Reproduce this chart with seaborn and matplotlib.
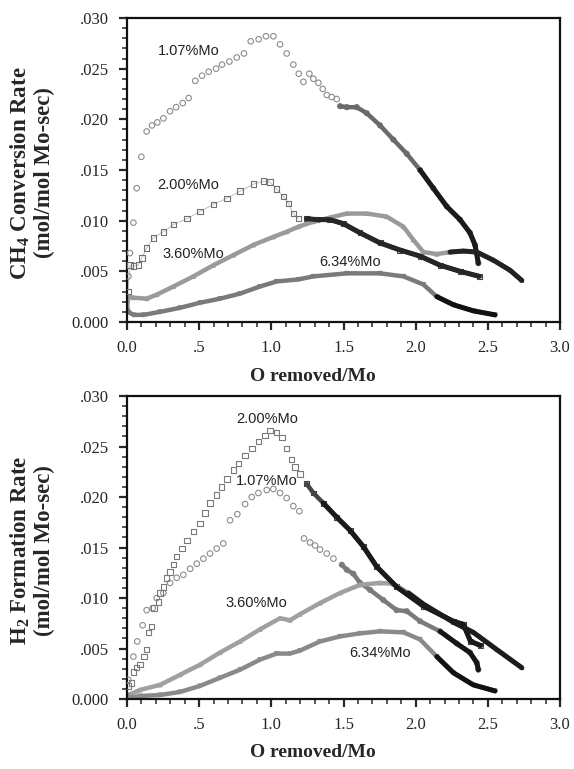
import numpy as np
import pandas as pd
import matplotlib
matplotlib.use("Agg")
import matplotlib.pyplot as plt
from matplotlib.ticker import MultipleLocator
import seaborn as sns

# ---------------- data ----------------
# Top panel: CH4 conversion rate
ch4_107_x = [0.01, 0.02, 0.044, 0.067, 0.099, 0.136, 0.173, 0.21, 0.252, 0.298, 0.34, 0.386, 0.427,
             0.473, 0.52, 0.566, 0.617, 0.658, 0.709, 0.76, 0.81, 0.857, 0.912, 0.963, 1.014, 1.06,
             1.106, 1.152, 1.19, 1.222, 1.263, 1.291, 1.326, 1.356, 1.384, 1.418, 1.453, 1.476,
             1.522, 1.591, 1.661, 1.753, 1.845, 1.938, 2.03, 2.122, 2.215, 2.307, 2.376, 2.411, 2.434]
ch4_107_y = [0.0045, 0.0068, 0.0098, 0.0132, 0.0163, 0.0188, 0.0194, 0.0197, 0.0201, 0.0208, 0.0212,
             0.0216, 0.0221, 0.0238, 0.0243, 0.0247, 0.0250, 0.0254, 0.0257, 0.0261, 0.0265, 0.0277,
             0.0279, 0.0282, 0.0282, 0.0274, 0.0265, 0.0254, 0.0245, 0.0237, 0.0245, 0.0240, 0.0236,
             0.0230, 0.0224, 0.0222, 0.0220, 0.0213, 0.0212, 0.0212, 0.0206, 0.0194, 0.0180, 0.0166,
             0.0150, 0.0132, 0.0114, 0.0101, 0.0088, 0.0076, 0.0058]

ch4_200_x = [0.005, 0.021, 0.044, 0.078, 0.102, 0.136, 0.182, 0.252, 0.321, 0.414, 0.506, 0.598, 0.691,
             0.783, 0.875, 0.944, 0.99, 1.037, 1.083, 1.118, 1.152, 1.187, 1.245, 1.314, 1.406, 1.499,
             1.614, 1.753, 1.891, 2.03, 2.169, 2.307, 2.441]
ch4_200_y = [0.0030, 0.0056, 0.0055, 0.0056, 0.0063, 0.0073, 0.0083, 0.0089, 0.0096, 0.0102, 0.0109,
             0.0116, 0.0122, 0.0129, 0.0136, 0.0139, 0.0138, 0.0131, 0.0124, 0.0117, 0.0107, 0.0102,
             0.0102, 0.0101, 0.0101, 0.0097, 0.0088, 0.0078, 0.0071, 0.0065, 0.0056, 0.0050, 0.0045]

ch4_360_x = [0.0, 0.009, 0.044, 0.136, 0.206, 0.321, 0.46, 0.598, 0.737, 0.875, 1.014, 1.106, 1.187,
             1.291, 1.406, 1.522, 1.661, 1.799, 1.915, 1.984, 2.053, 2.146, 2.238, 2.33, 2.423, 2.538,
             2.654, 2.735]
ch4_360_y = [0.0012, 0.0025, 0.0024, 0.0023, 0.0027, 0.0035, 0.0045, 0.0056, 0.0066, 0.0076, 0.0084,
             0.0089, 0.0094, 0.0099, 0.0103, 0.0107, 0.0107, 0.0104, 0.0094, 0.0081, 0.0069, 0.0067,
             0.0069, 0.0070, 0.0069, 0.0061, 0.0051, 0.0041]

ch4_634_x = [0.0, 0.009, 0.044, 0.113, 0.229, 0.367, 0.506, 0.644, 0.783, 0.921, 1.037, 1.187, 1.291,
             1.522, 1.753, 1.915, 2.053, 2.146, 2.261, 2.399, 2.55]
ch4_634_y = [0.0012, 0.0010, 0.0007, 0.0007, 0.0010, 0.0014, 0.0019, 0.0023, 0.0028, 0.0035, 0.0040,
             0.0042, 0.0045, 0.0048, 0.0048, 0.0045, 0.0037, 0.0025, 0.0017, 0.0011, 0.0007]

# Bottom panel: H2 formation rate
h2_200_x = [0.009, 0.032, 0.044, 0.067, 0.09, 0.118, 0.136, 0.15, 0.171, 0.187, 0.217, 0.229, 0.252,
            0.275, 0.298, 0.321, 0.344, 0.379, 0.414, 0.46, 0.506, 0.54, 0.575, 0.621, 0.656, 0.691,
            0.737, 0.771, 0.818, 0.864, 0.91, 0.956, 0.991, 1.037, 1.072, 1.106, 1.141, 1.164, 1.199,
            1.245, 1.291, 1.36, 1.453, 1.545, 1.637, 1.73, 1.868, 2.053, 2.261, 2.33, 2.38, 2.45]
h2_200_y = [0.0013, 0.0016, 0.0027, 0.0031, 0.0034, 0.0042, 0.0049, 0.0066, 0.0072, 0.0090, 0.0096,
            0.0105, 0.0111, 0.0120, 0.0126, 0.0133, 0.0141, 0.0149, 0.0157, 0.0166, 0.0174, 0.0184,
            0.0194, 0.0202, 0.0210, 0.0218, 0.0227, 0.0233, 0.0241, 0.0248, 0.0255, 0.0261, 0.0266,
            0.0264, 0.0259, 0.0248, 0.0237, 0.0230, 0.0223, 0.0213, 0.0204, 0.0194, 0.0180, 0.0167,
            0.0151, 0.0131, 0.0111, 0.0092, 0.0077, 0.0074, 0.0057, 0.0053]

h2_107_x = [0.009, 0.044, 0.071, 0.108, 0.136, 0.178, 0.206, 0.252, 0.298, 0.344, 0.39, 0.437, 0.483,
            0.529, 0.575, 0.621, 0.667, 0.714, 0.764, 0.818, 0.864, 0.91, 0.968, 1.014, 1.06, 1.106,
            1.152, 1.194, 1.226, 1.268, 1.303, 1.337, 1.384, 1.43, 1.488, 1.522, 1.568, 1.614, 1.684,
            1.776, 1.868, 1.938, 2.03, 2.169, 2.284, 2.376, 2.423, 2.434]
h2_107_y = [0.0019, 0.0042, 0.0057, 0.0073, 0.0088, 0.0090, 0.0100, 0.0105, 0.0115, 0.0120, 0.0123,
            0.0129, 0.0134, 0.0139, 0.0144, 0.0149, 0.0154, 0.0177, 0.0183, 0.0193, 0.0200, 0.0204,
            0.0207, 0.0208, 0.0204, 0.0199, 0.0191, 0.0186, 0.0159, 0.0155, 0.0152, 0.0148, 0.0144,
            0.0139, 0.0133, 0.0128, 0.0124, 0.0115, 0.0108, 0.0098, 0.0088, 0.0087, 0.0077, 0.0067,
            0.0055, 0.0046, 0.0036, 0.0029]

h2_360_x = [0.0, 0.009, 0.09, 0.229, 0.367, 0.506, 0.644, 0.783, 0.921, 1.06, 1.129, 1.199, 1.337,
            1.476, 1.614, 1.753, 1.845, 1.95, 2.053, 2.261, 2.399, 2.561, 2.735]
h2_360_y = [0.0002, 0.0004, 0.0009, 0.0014, 0.0024, 0.0034, 0.0046, 0.0057, 0.0069, 0.0080, 0.0078,
            0.0084, 0.0095, 0.0105, 0.0113, 0.0115, 0.0114, 0.0105, 0.0094, 0.0076, 0.0066, 0.0049,
            0.0031]

h2_634_x = [0.0, 0.009, 0.09, 0.229, 0.367, 0.506, 0.644, 0.783, 0.921, 1.037, 1.129, 1.199, 1.337,
            1.476, 1.614, 1.753, 1.915, 2.03, 2.146, 2.261, 2.399, 2.55]
h2_634_y = [0.0003, 0.0001, 0.0003, 0.0004, 0.0007, 0.0013, 0.0021, 0.0029, 0.0039, 0.0045, 0.0045,
            0.0048, 0.0057, 0.0062, 0.0065, 0.0067, 0.0066, 0.0059, 0.0042, 0.0026, 0.0014, 0.0008]

series_labels = ["1.07%Mo", "2.00%Mo", "3.60%Mo", "6.34%Mo"]
x_ticks = [0.0, 0.5, 1.0, 1.5, 2.0, 2.5, 3.0]
x_tick_labels = ["0.0", ".5", "1.0", "1.5", "2.0", "2.5", "3.0"]
y_ticks = [0.0, 0.005, 0.010, 0.015, 0.020, 0.025, 0.030]
y_tick_labels = ["0.000", ".005", ".010", ".015", ".020", ".025", ".030"]

# ---------------- style ----------------
sns.set_style("ticks")
plt.rcParams["font.family"] = ["Liberation Serif", "DejaVu Serif"]
plt.rcParams["mathtext.fontset"] = "custom"
plt.rcParams["mathtext.rm"] = "Liberation Serif:bold"
plt.rcParams["mathtext.bf"] = "Liberation Serif:bold"

fig = plt.figure(figsize=(5.74, 7.69), dpi=100)
ax1 = fig.add_axes([0.2213, 0.5813, 0.7544, 0.3953])
ax2 = fig.add_axes([0.2213, 0.0910, 0.7544, 0.3940])


def draw(ax, xs, ys, marker, msize, sparse_until, dark_from, mid_color, dark_color, edge):
    df = pd.DataFrame({"x": xs, "y": ys})
    sparse = df[df.x < sparse_until]
    dense = df[df.x >= sparse_until]
    dark = df[df.x >= dark_from]
    if len(dense) > 1:
        sns.lineplot(data=dense, x="x", y="y", ax=ax, sort=False, color=mid_color,
                     lw=3.2, estimator=None, zorder=2)
        sns.scatterplot(data=dense, x="x", y="y", ax=ax, marker=marker, s=msize * 0.8,
                        facecolor="none", edgecolor=mid_color, linewidth=0.8, zorder=2)
    if len(dark) > 1:
        sns.lineplot(data=dark, x="x", y="y", ax=ax, sort=False, color=dark_color,
                     lw=3.6, estimator=None, zorder=3)
    if len(sparse) > 0:
        sns.scatterplot(data=sparse, x="x", y="y", ax=ax, marker=marker, s=msize,
                        facecolor="none", edgecolor=edge, linewidth=0.8, zorder=4)


# top panel
draw(ax1, ch4_107_x, ch4_107_y, "o", 16, 1.47, 1.95, "#6a6a6a", "#1a1a1a", "#8c8c8c")
sns.lineplot(x=ch4_200_x[:22], y=ch4_200_y[:22], ax=ax1, sort=False, color="#b5b5b5",
             lw=0.6, estimator=None, zorder=1)
draw(ax1, ch4_200_x, ch4_200_y, "s", 16, 1.2, 1.2, "#444444", "#262626", "#707070")
draw(ax1, ch4_360_x, ch4_360_y, "^", 10, -1, 2.2, "#9a9a9a", "#222222", "#888888")
draw(ax1, ch4_634_x, ch4_634_y, "v", 10, -1, 2.1, "#7a7a7a", "#111111", "#666666")

# bottom panel
draw(ax2, h2_107_x, h2_107_y, "o", 16, 1.45, 2.1, "#7a7a7a", "#151515", "#8c8c8c")
draw(ax2, h2_200_x, h2_200_y, "s", 16, 1.2, 1.35, "#444444", "#1a1a1a", "#7a7a7a")
draw(ax2, h2_360_x, h2_360_y, "^", 10, -1, 1.85, "#a0a0a0", "#1c1c1c", "#888888")
draw(ax2, h2_634_x, h2_634_y, "v", 10, -1, 2.1, "#8a8a8a", "#111111", "#666666")

# labels
ann_font = dict(family=["Liberation Sans", "DejaVu Sans"], fontsize=10.5, ha="center", va="center",
                color="#222222")
ax1.text(0.425, 0.0267, series_labels[0], **ann_font)
ax1.text(0.425, 0.0135, series_labels[1], **ann_font)
ax1.text(0.46, 0.0067, series_labels[2], **ann_font)
ax1.text(1.545, 0.0059, series_labels[3], **ann_font)

ax2.text(0.968, 0.0277, series_labels[1], **ann_font)
ax2.text(0.968, 0.0216, series_labels[0], **ann_font)
ax2.text(0.899, 0.0095, series_labels[2], **ann_font)
ax2.text(1.753, 0.00455, series_labels[3], **ann_font)

ylabels = ["CH$_{4}$ Conversion Rate\n(mol/mol Mo-sec)", "H$_{2}$ Formation Rate\n(mol/mol Mo-sec)"]
for ax, yl in zip([ax1, ax2], ylabels):
    ax.set_xlim(0, 3.0)
    ax.set_ylim(0, 0.030)
    ax.set_xticks(x_ticks)
    ax.set_xticklabels(x_tick_labels, fontsize=12)
    ax.set_yticks(y_ticks)
    ax.set_yticklabels(y_tick_labels, fontsize=12)
    ax.xaxis.set_minor_locator(MultipleLocator(0.1))
    ax.yaxis.set_minor_locator(MultipleLocator(0.001))
    ax.tick_params(which="major", direction="out", length=6, width=1.6, pad=7)
    ax.tick_params(which="minor", direction="out", length=3.5, width=1.1)
    for sp in ax.spines.values():
        sp.set_visible(True)
        sp.set_linewidth(1.6)
        sp.set_color("#111111")
    ax.set_xlabel("O removed/Mo", fontsize=14, fontweight="bold")
    ax.set_ylabel(yl, fontsize=16.5, fontweight="bold", linespacing=1.12)
    ax.xaxis.set_label_coords(0.43, -0.15)
    ax.yaxis.set_label_coords(-0.166, 0.49)

fig.savefig("out.png", dpi=100, facecolor="white")
